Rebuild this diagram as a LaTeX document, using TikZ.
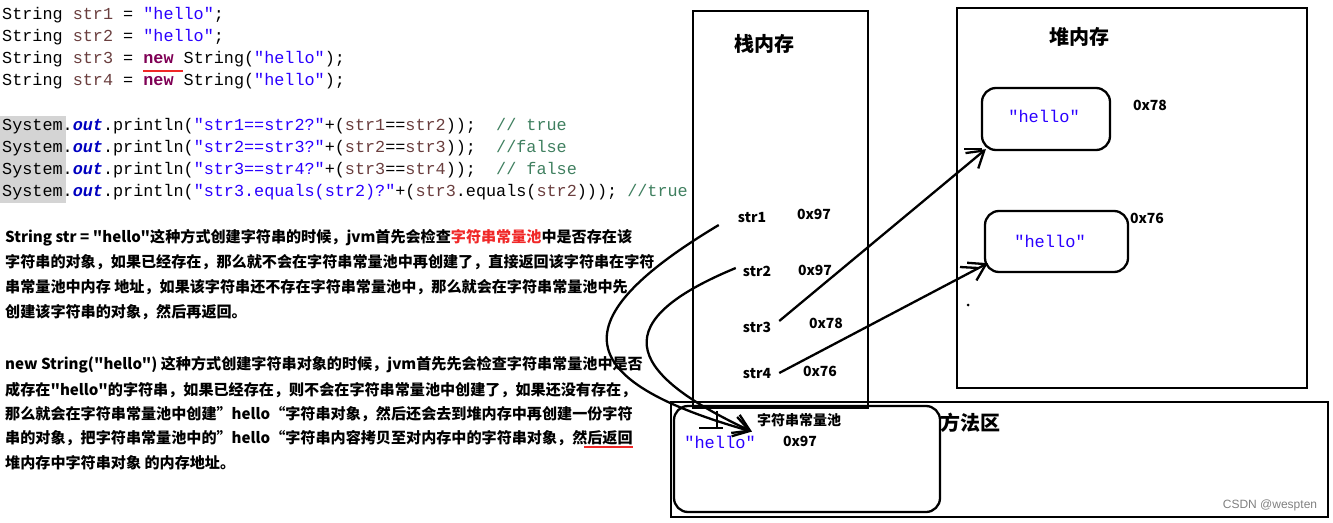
\documentclass[tikz,border=0pt]{standalone}
\usepackage{fontspec}
\setmainfont{Liberation Sans}
\newfontfamily\cjk{Noto Sans CJK SC}
\newfontfamily\codefont{Liberation Mono}
\usetikzlibrary{arrows.meta, positioning, calc}
\definecolor{codevar}{RGB}{106,62,62}
\definecolor{codestr}{RGB}{42,0,255}
\definecolor{codekey}{RGB}{127,0,85}
\definecolor{codefield}{RGB}{0,0,192}
\definecolor{codecmt}{RGB}{63,127,95}
\definecolor{sysbg}{RGB}{212,212,212}
\definecolor{hlred}{RGB}{240,40,40}
\newcommand\kw[1]{\textcolor{codekey}{\bfseries #1}}
\newcommand\sv[1]{\textcolor{codevar}{#1}}
\newcommand\qs[1]{\textcolor{codestr}{#1}}
\newcommand\fd[1]{\textcolor{codefield}{\bfseries\itshape #1}}
\newcommand\cm[1]{\textcolor{codecmt}{#1}}
\tikzset{
  region/.style   = {draw, line width=2.5pt, inner sep=0pt},
  objbox/.style   = {draw, line width=2.3pt, rounded corners=14pt, inner sep=0pt},
  codeline/.style = {anchor=west, inner sep=0pt, font=\codefont\fontsize{16.8}{16.8}\selectfont},
  para/.style     = {anchor=west, inner sep=0pt, font=\cjk\bfseries\fontsize{15.1}{15.1}\selectfont},
  title/.style    = {inner sep=0pt, font=\cjk\bfseries\fontsize{20}{20}\selectfont},
  lbl/.style      = {inner sep=0pt, font=\cjk\bfseries\fontsize{14}{14}\selectfont},
  hello/.style    = {inner sep=0pt, text=codestr, font=\codefont\fontsize{17}{17}\selectfont},
  arrow/.style    = {-{Straight Barb[length=16pt,width=20pt]}, line width=2.3pt},
  strokemark/.style = {line width=2.3pt},
  redline/.style  = {draw=hlred, line width=2pt},
}
\begin{document}
\begin{tikzpicture}[x=1pt, y=-1pt]
  \useasboundingbox (0,0) rectangle (1333,522);

  % code
  \fill[sysbg] (0,116) rectangle (66,203);
  \node[codeline] (c1) at (2,15)  {String \sv{str1} = \qs{"hello"};};
  \node[codeline] (c2) at (2,37)  {String \sv{str2} = \qs{"hello"};};
  \node[codeline] (c3) at (2,59)  {String \sv{str3} = \kw{new} String(\qs{"hello"});};
  \node[codeline] (c4) at (2,81)  {String \sv{str4} = \kw{new} String(\qs{"hello"});};
  \node[codeline] (c5) at (2,126) {System.\fd{out}.println(\qs{"str1==str2?"}+(\sv{str1}==\sv{str2}));~~\cm{// true}};
  \node[codeline] (c6) at (2,148) {System.\fd{out}.println(\qs{"str2==str3?"}+(\sv{str2}==\sv{str3}));~~\cm{//false}};
  \node[codeline] (c7) at (2,170) {System.\fd{out}.println(\qs{"str3==str4?"}+(\sv{str3}==\sv{str4}));~~\cm{// false}};
  \node[codeline] (c8) at (2,192) {System.\fd{out}.println(\qs{"str3.equals(str2)?"}+(\sv{str3}.equals(\sv{str2}))); \cm{//true}};
  \draw[redline] (143,71) -- (183,71);

  % notes
  \node[para] (p1) at (5,238) {String str = "hello"这种方式创建字符串的时候，jvm首先会检查\textcolor{hlred}{字符串常量池}中是否存在该};
  \node[para] (p2) at (5,262) {字符串的对象，如果已经存在，那么就不会在字符串常量池中再创建了，直接返回该字符串在字符};
  \node[para] (p3) at (5,287) {串常量池中内存 地址，如果该字符串还不存在字符串常量池中，那么就会在字符串常量池中先};
  \node[para] (p4) at (5,312) {创建该字符串的对象，然后再返回。};
  \node[para] (p5) at (5,365) {new String("hello") 这种方式创建字符串对象的时候，jvm首先先会检查字符串常量池中是否};
  \node[para] (p6) at (5,390) {成存在"hello"的字符串，如果已经存在，则不会在字符串常量池中创建了，如果还没有存在，};
  \node[para] (p7) at (5,414) {那么就会在字符串常量池中创建”hello“字符串对象，然后还会去到堆内存中再创建一份字符};
  \node[para] (p8) at (5,438) {串的对象，把字符串常量池中的”hello“字符串内容拷贝至对内存中的字符串对象，然后返回};
  \node[para] (p9) at (5,463) {堆内存中字符串对象 的内存地址。};
  \draw[redline] (584,447) -- (633,447);

  % memory areas
  \node[region, minimum width=175, minimum height=397] (stack) at (780.5,209.5) {};
  \node[region, minimum width=350, minimum height=380] (heap) at (1132,198) {};
  \node[region, minimum width=657, minimum height=115] (method) at (999.5,459.5) {};
  \node[objbox, minimum width=266, minimum height=106] (pool) at (807,459) {};
  \node[title] (stackT) at (764,44) {栈内存};
  \node[title] (heapT) at (1079,37) {堆内存};
  \node[title] (methodT) at (970,423) {方法区};

  % heap objects
  \node[objbox, minimum width=128, minimum height=62] (h1) at (1046,119) {};
  \node[hello] at (1044,116) {"hello"};
  \node[lbl] (a1) at (1150,105) {0x78};
  \node[objbox, minimum width=143, minimum height=61] (h2) at (1056.5,241.5) {};
  \node[hello] at (1050,241) {"hello"};
  \node[lbl] (a2) at (1147,218) {0x76};

  % constant pool
  \node[lbl] (poolT) at (799,420) {字符串常量池};
  \node[hello] (hp) at (720,442) {"hello"};
  \node[lbl] (hpa) at (800,441) {0x97};

  % stack variables
  \node[lbl] (s1) at (752,218) {str1};
  \node[lbl] (v1) at (814,214) {0x97};
  \node[lbl] (s2) at (757,271) {str2};
  \node[lbl] (v2) at (815,270) {0x97};
  \node[lbl] (s3) at (757,327) {str3};
  \node[lbl] (v3) at (826,323) {0x78};
  \node[lbl] (s4) at (757,374) {str4};
  \node[lbl] (v4) at (820,371) {0x76};

  \draw[arrow] ($(s3.east)+(8,-6)$) -- ($(h1.south west)+(5,-2)$);
  \draw[arrow] ($(s4.east)+(8,-1)$) -- ($(h2.south west)+(4,-10)$);
  \draw[arrow] ($(s1.west)+(-19,7)$) .. controls (560,320) and (570,380) .. ($(hp.north east)+(-4,-4)$);
  \draw[arrow] ($(s2.west)+(-7,-3)$) .. controls (610,320) and (620,370) .. ($(hp.north east)+(-4,-4)$);

  % stray marks
  \draw[strokemark] (717,411) -- (717,428) (699,428) -- (723,428);
  \draw[strokemark] (964,149) -- (982,149);
  \draw[strokemark] (960,267) -- (978,268);
  \fill (968,305) circle (1.5);

  \node[text=gray, inner sep=0pt, font=\fontsize{12}{12}\selectfont] (wm) at (1270,505) {CSDN @wespten};
\end{tikzpicture}
\end{document}
